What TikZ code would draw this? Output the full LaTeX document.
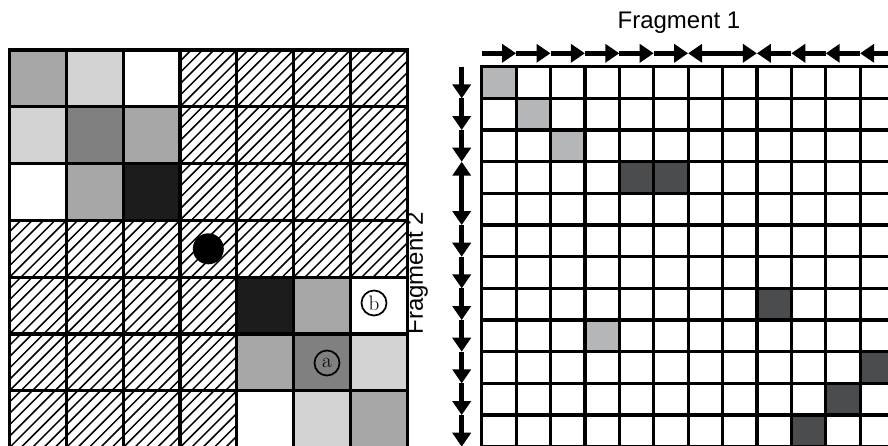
\documentclass[tikz,border=0pt]{standalone}
\usepackage{fontspec}
\newfontfamily\labelfont{Liberation Sans}
\usepackage{tikz}
\usetikzlibrary{arrows.meta,positioning,calc}

\definecolor{cellmid}{HTML}{A7A7A7}
\definecolor{celllight}{HTML}{D3D3D3}
\definecolor{celldark}{HTML}{808080}
\definecolor{cellblack}{HTML}{1C1C1C}
\definecolor{mxlight}{HTML}{B5B6B8}
\definecolor{mxdark}{HTML}{4B4C4E}

\begin{document}
\begin{tikzpicture}[x=1pt,y=-1pt,
    gridline/.style={line width=3.2pt,line cap=rect},
    hatch/.style={line width=1.5pt},
    flow/.style={line width=5pt,>={Triangle[length=14pt,width=18pt]}},
    tag/.style={circle,draw,line width=1.7pt,inner sep=0pt,minimum size=25pt,font=\fontsize{21}{21}\selectfont},
    caption/.style={font=\labelfont\fontsize{24}{24}\selectfont}]
    \useasboundingbox (0,0) rectangle (888,445);

    \def\lx{9.5} \def\ly{50} \def\lc{56.8}
    \def\rx{481.7} \def\ry{66.7} \def\rw{34.4} \def\rh{31.67}

    % left grid: hatching, then the plain cells on top
    \begin{scope}
        \clip (\lx,\ly) rectangle ++(7*\lc,7*\lc);
        \foreach \i in {0,...,70} {
            \pgfmathsetmacro\c{\lx+\ly+\i*\lc/5}
            \draw[hatch] (\c-\ly+10,\ly-10) -- ++(-500,500);
        }
    \end{scope}
    \foreach \r/\k/\col in {0/0/cellmid,0/1/celllight,0/2/white,
                            1/0/celllight,1/1/celldark,1/2/cellmid,
                            2/0/white,2/1/cellmid,2/2/cellblack,
                            4/4/cellblack,4/5/cellmid,4/6/white,
                            5/4/cellmid,5/5/celldark,5/6/celllight,
                            6/4/white,6/5/celllight,6/6/cellmid}
        \fill[\col] (\lx+\k*\lc,\ly+\r*\lc) rectangle ++(\lc,\lc);
    \foreach \i in {0,...,7} {
        \draw[gridline] (\lx+\i*\lc,\ly) -- (\lx+\i*\lc,\ly+7*\lc);
        \draw[gridline] (\lx,\ly+\i*\lc) -- (\lx+7*\lc,\ly+\i*\lc);
    }
    \node[circle,fill=black,inner sep=0pt,minimum size=31pt] (dot) at (\lx+3.5*\lc,\ly+3.5*\lc) {};
    \node[tag,fill=white] (tagb) at (374,303) {b};
    \node[tag] (taga) at (327,363) {a};

    \node[caption,rotate=90] (frag2) at (417,273) {Fragment 2};

    % right matrix
    \foreach \r/\k in {0/0,1/1,2/2,8/3}
        \fill[mxlight] (\rx+\k*\rw,\ry+\r*\rh) rectangle ++(\rw,\rh);
    \foreach \r/\k in {3/4,3/5,7/8,9/11,10/10,11/9}
        \fill[mxdark] (\rx+\k*\rw,\ry+\r*\rh) rectangle ++(\rw,\rh);
    \foreach \i in {0,...,12} {
        \draw[gridline] (\rx+\i*\rw,\ry) -- (\rx+\i*\rw,\ry+12*\rh);
        \draw[gridline] (\rx,\ry+\i*\rh) -- (\rx+12*\rw,\ry+\i*\rh);
        \coordinate (t\i) at (\rx+\i*\rw,53.3);
        \coordinate (s\i) at (461.7,\ry+\i*\rh);
    }

    \node[caption] (frag1) at (679,23) {Fragment 1};

    % direction arrows
    \foreach \a/\b in {0/1,1/2,2/3,3/4,4/5,5/6}
        \draw[flow,->] (t\a) -- (t\b);
    \draw[flow,<->] (t6) -- (t8);
    \foreach \a/\b in {8/9,9/10,10/11,11/12}
        \draw[flow,<-] (t\a) -- (t\b);

    \foreach \a/\b in {0/1,1/2,2/3}
        \draw[flow,->] (s\a) -- (s\b);
    \draw[flow,<->] (s3) -- (s5);
    \foreach \a/\b in {5/6,6/7,7/8,8/9,9/10,10/11,11/12}
        \draw[flow,->] (s\a) -- (s\b);
\end{tikzpicture}
\end{document}
